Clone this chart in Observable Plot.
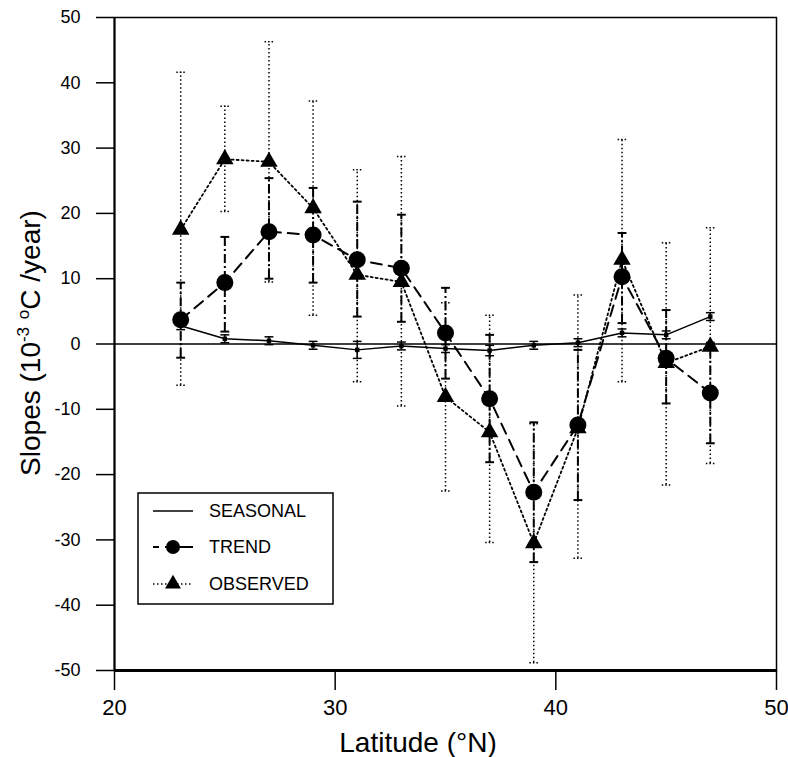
<!DOCTYPE html>
<html><head><meta charset="utf-8">
<script src="https://cdn.jsdelivr.net/npm/d3@7"></script>
<script src="https://cdn.jsdelivr.net/npm/@observablehq/plot@0.6"></script>
<style>
body{margin:0;background:#fff;}
#wrap{position:relative;width:788px;height:757px;}
#legend{position:absolute;left:137px;top:492px;}
</style></head><body><div id="wrap"></div>
<script>
const lat = [23, 25, 27, 29, 31, 33, 35, 37, 39, 41, 43, 45, 47];
const seasonal = [2.8, 0.8, 0.5, -0.2, -0.9, -0.3, -0.7, -1.0, -0.2, 0.2, 1.7, 1.4, 4.2];
const seasonalLow = [2.2, 0.2, -0.1, -0.8, -2.2, -0.9, -1.3, -1.8, -0.8, -0.4, 1.1, 0.8, 3.6];
const seasonalHigh = [3.4, 1.4, 1.1, 0.4, 0.4, 0.3, -0.1, -0.2, 0.4, 0.8, 2.3, 2.0, 4.8];
const trend = [3.7, 9.4, 17.2, 16.7, 12.9, 11.6, 1.7, -8.4, -22.7, -12.4, 10.3, -2.2, -7.5];
const trendLow = [-2.1, 1.9, 10.0, 9.4, 4.2, 3.4, -5.3, -18.1, -33.4, -23.9, 3.2, -9.1, -15.2];
const trendHigh = [9.4, 16.4, 25.4, 23.9, 21.8, 19.8, 8.6, 1.4, -12.0, -0.9, 17.0, 5.2, 0.2];
const observed = [17.5, 28.3, 27.9, 20.8, 10.6, 9.5, -8.1, -13.5, -30.5, -12.9, 12.9, -2.9, -0.4];
const obsLow = [-6.3, 20.3, 9.5, 4.4, -5.8, -9.5, -22.5, -30.4, -48.8, -32.8, -5.8, -21.6, -18.3];
const obsHigh = [41.6, 36.4, 46.3, 37.2, 26.7, 28.7, 6.3, 4.4, -12.2, 7.5, 31.3, 15.5, 17.8];
const yTicks = [-50, -40, -30, -20, -10, 0, 10, 20, 30, 40, 50];
const xTicks = [20, 30, 40, 50];
const legendLabels = ["SEASONAL", "TREND", "OBSERVED"];

const data = lat.map((x, i) => ({
  lat: x, seasonal: seasonal[i], sLo: seasonalLow[i], sHi: seasonalHigh[i],
  trend: trend[i], tLo: trendLow[i], tHi: trendHigh[i],
  observed: observed[i], oLo: obsLow[i], oHi: obsHigh[i]
}));

const capW = 0.2;
const cap = (y, opts) => Plot.link(data, {x1: d => d.lat - capW, x2: d => d.lat + capW, y1: y, y2: y, stroke: "black", ...opts});

const chart = Plot.plot({
  width: 788, height: 757,
  marginLeft: 114, marginRight: 12, marginTop: 17, marginBottom: 87,
  style: {fontFamily: "'Liberation Sans', Arial, sans-serif", background: "white", color: "black"},
  x: {domain: [20, 50]},
  y: {domain: [-50, 50]},
  marks: [
    Plot.ruleY([0], {stroke: "black", strokeWidth: 1.5}),
    // observed error bars (dotted)
    Plot.ruleX(data, {x: "lat", y1: "oLo", y2: "oHi", stroke: "black", strokeWidth: 1.5, strokeDasharray: "1.5,2.5"}),
    cap("oLo", {strokeWidth: 1.5, strokeDasharray: "1.5,2"}),
    cap("oHi", {strokeWidth: 1.5, strokeDasharray: "1.5,2"}),
    // trend error bars (dash-dot)
    Plot.ruleX(data, {x: "lat", y1: "tLo", y2: "tHi", stroke: "black", strokeWidth: 2, strokeDasharray: "9,3,2,3"}),
    cap("tLo", {strokeWidth: 2}),
    cap("tHi", {strokeWidth: 2}),
    // seasonal error bars
    Plot.ruleX(data, {x: "lat", y1: "sLo", y2: "sHi", stroke: "black", strokeWidth: 1.5}),
    cap("sLo", {strokeWidth: 1.5}),
    cap("sHi", {strokeWidth: 1.5}),
    Plot.line(data, {x: "lat", y: "seasonal", stroke: "black", strokeWidth: 1.5}),
    Plot.line(data, {x: "lat", y: "trend", stroke: "black", strokeWidth: 2, strokeDasharray: "11,7"}),
    Plot.line(data, {x: "lat", y: "observed", stroke: "black", strokeWidth: 1.8, strokeDasharray: "2,3"}),
    Plot.dot(data, {x: "lat", y: "seasonal", symbol: "square", r: 2.5, fill: "black"}),
    Plot.dot(data, {x: "lat", y: "trend", r: 8.5, fill: "black"}),
    Plot.dot(data, {x: "lat", y: "observed", symbol: "triangle", r: 6.5, fill: "black"}),
    Plot.frame({stroke: "black", strokeWidth: 1.5}),
    Plot.ruleY([-50], {stroke: "black", strokeWidth: 3}),
    Plot.ruleX([20], {stroke: "black", strokeWidth: 2}),
    Plot.axisY({ticks: yTicks, tickSize: 18, tickPadding: 16, fontSize: 18, label: null, strokeWidth: 1.5, tickFormat: d => String(d)}),
    Plot.axisX({ticks: xTicks, tickSize: 20, tickPadding: 9, fontSize: 22, label: null, strokeWidth: 1.5, tickFormat: d => String(d)})
  ]
});

const svg = d3.select(chart);
const yt = svg.append("text")
  .attr("transform", "translate(40,343) rotate(-90)")
  .attr("text-anchor", "middle")
  .attr("fill", "black")
  .style("font-size", "28px");
yt.append("tspan").text("Slopes (10");
yt.append("tspan").attr("dy", -11).style("font-size", "17px").text("-3");
yt.append("tspan").attr("dy", 11).text(" ");
yt.append("tspan").attr("dy", -11).style("font-size", "17px").text("o");
yt.append("tspan").attr("dy", 11).text("C /year)");

svg.append("text")
  .attr("x", 418).attr("y", 752)
  .attr("text-anchor", "middle")
  .attr("fill", "black")
  .style("font-size", "28px")
  .text("Latitude (°N)");

document.getElementById("wrap").appendChild(chart);

// legend (inside plot area, as in original)
const L = d3.select("#wrap").append("svg").attr("id", "legend")
  .attr("width", 198).attr("height", 114)
  .style("font-family", "'Liberation Sans', Arial, sans-serif");
L.append("rect").attr("x", 1).attr("y", 1).attr("width", 195).attr("height", 111)
  .attr("fill", "white").attr("stroke", "black").attr("stroke-width", 1.5);
const rows = [19, 55, 92];
// seasonal sample
L.append("line").attr("x1", 16).attr("x2", 56).attr("y1", rows[0]).attr("y2", rows[0]).attr("stroke", "black").attr("stroke-width", 1.5);
// trend sample
L.append("line").attr("x1", 16).attr("x2", 56).attr("y1", rows[1]).attr("y2", rows[1]).attr("stroke", "black").attr("stroke-width", 2).attr("stroke-dasharray", "6,6,28,6");
L.append("circle").attr("cx", 36).attr("cy", rows[1]).attr("r", 7).attr("fill", "black");
// observed sample
L.append("line").attr("x1", 16).attr("x2", 56).attr("y1", rows[2]).attr("y2", rows[2]).attr("stroke", "black").attr("stroke-width", 1.5).attr("stroke-dasharray", "1.5,2.5");
L.append("path").attr("d", d3.symbol(d3.symbolTriangle, 110)()).attr("transform", `translate(36,${rows[2]})`).attr("fill", "black");
legendLabels.forEach((t, i) => {
  L.append("text").attr("x", 72).attr("y", rows[i]).attr("dy", "0.36em")
    .style("font-size", "18px").attr("fill", "black").text(t);
});
</script>
</body></html>
